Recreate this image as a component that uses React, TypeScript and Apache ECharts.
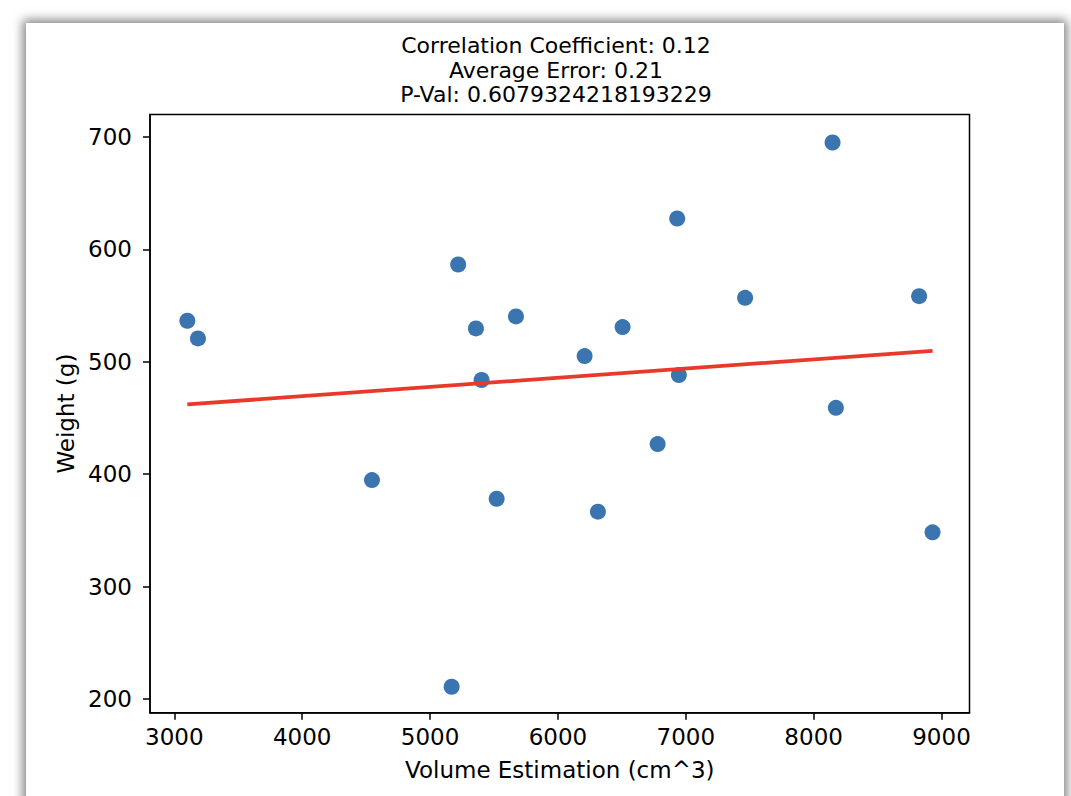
import React, { useEffect, useRef } from "react";
import * as echarts from "echarts";

const volume = [3102, 3185, 4546, 5169, 5220, 5359, 5403, 5521, 5672, 6209, 6313, 6506, 6780, 6933, 6946, 7464, 8148, 8174, 8825, 8930];
const weight = [536.4, 520.7, 394.7, 210.9, 586.5, 529.6, 483.7, 378.1, 540.3, 505.0, 366.6, 530.8, 426.7, 627.4, 488.1, 556.8, 695.0, 459.0, 558.3, 348.2];
const fitX = [3102, 8930];
const fitY = [462.0, 509.7];
const xTicks = [3000, 4000, 5000, 6000, 7000, 8000, 9000];
const yTicks = [200, 300, 400, 500, 600, 700];
const titleLines = [
  "Correlation Coefficient: 0.12",
  "Average Error: 0.21",
  "P-Val: 0.6079324218193229",
];
const xName = "Volume Estimation (cm^3)";
const yName = "Weight (g)";

const FONT = "DejaVu Sans";

export default function App() {
  const ref = useRef<HTMLDivElement>(null);
  useEffect(() => {
    if (!ref.current) return;
    const chart = echarts.init(ref.current, undefined, { renderer: "svg" });
    const points = volume.map((v, i) => [v, weight[i]]);
    const fit = fitX.map((v, i) => [v, fitY[i]]);
    chart.setOption({
      animation: false,
      backgroundColor: "transparent",
      grid: {
        left: 150,
        right: 1071 - 969.5,
        top: 114.5,
        bottom: 796 - 712.7,
        show: true,
        borderColor: "#000",
        borderWidth: 1.5,
        containLabel: false,
      },
      graphic: titleLines.map((t, i) => ({
        type: "text",
        x: 556,
        y: 45.5 + i * 24.5,
        style: {
          text: t,
          fill: "#000",
          font: `22px "${FONT}"`,
          textAlign: "center",
          textVerticalAlign: "middle",
        },
      })),
      xAxis: {
        type: "value",
        min: 2810,
        max: 9219,
        name: xName,
        nameLocation: "middle",
        nameGap: 46,
        nameTextStyle: { color: "#000", fontSize: 23, fontFamily: FONT },
        axisLine: { show: true, lineStyle: { color: "#000", width: 1.5 } },
        axisTick: { show: true, length: 7, lineStyle: { color: "#000", width: 1.5 }, customValues: xTicks },
        axisLabel: {
          color: "#000",
          fontSize: 23,
          fontFamily: FONT,
          margin: 13,
          customValues: xTicks,
          formatter: (v: number) => String(v),
        },
        splitLine: { show: false },
      },
      yAxis: {
        type: "value",
        min: 187.8,
        max: 719.9,
        name: yName,
        nameLocation: "middle",
        nameGap: 72,
        nameTextStyle: { color: "#000", fontSize: 23, fontFamily: FONT },
        axisLine: { show: true, lineStyle: { color: "#000", width: 1.5 } },
        axisTick: { show: true, length: 7, lineStyle: { color: "#000", width: 1.5 }, customValues: yTicks },
        axisLabel: {
          color: "#000",
          fontSize: 23,
          fontFamily: FONT,
          margin: 18,
          customValues: yTicks,
          formatter: (v: number) => String(v),
        },
        splitLine: { show: false },
      },
      series: [
        {
          type: "scatter",
          data: points,
          symbolSize: 16,
          itemStyle: { color: "#3a75af", opacity: 1 },
          z: 2,
        },
        {
          type: "line",
          data: fit,
          symbol: "none",
          lineStyle: { color: "#e8392b", width: 3.8 },
          z: 3,
        },
      ],
    });
    return () => chart.dispose();
  }, []);

  return (
    <div
      style={{
        position: "fixed",
        left: 0,
        top: 0,
        width: 1071,
        height: 796,
        background: "#fff",
        overflow: "hidden",
      }}
    >
      <div
        style={{
          position: "absolute",
          left: 26,
          top: 23,
          width: 1038,
          height: 820,
          background: "#fff",
          boxShadow: "0 0 10px 3px rgba(0,0,0,0.5)",
        }}
      />
      <div ref={ref} style={{ position: "absolute", left: 0, top: 0, width: 1071, height: 796 }} />
    </div>
  );
}
